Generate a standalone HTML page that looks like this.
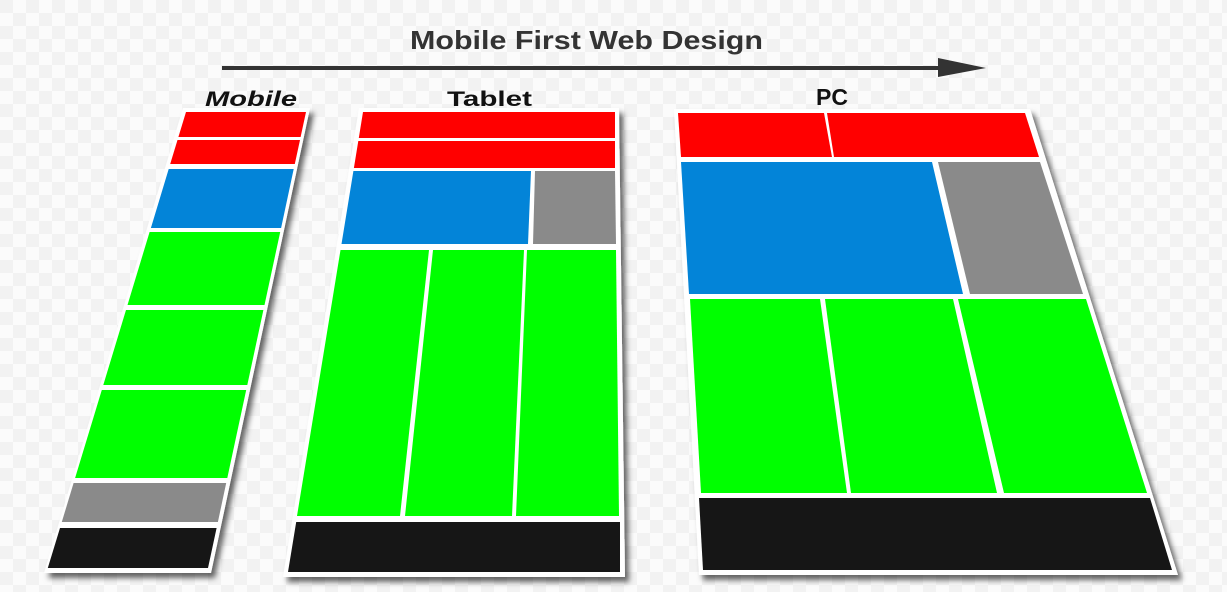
<!DOCTYPE html>
<html><head><meta charset="utf-8"><style>
html,body{margin:0;padding:0;background:#fff;}
svg{display:block}
</style></head><body>
<svg width="1227" height="592" viewBox="0 0 1227 592" xmlns="http://www.w3.org/2000/svg">
<defs>
<pattern id="chk" width="26" height="26" patternUnits="userSpaceOnUse">
<rect width="26" height="26" fill="#fbfbfb"/>
<rect width="13" height="13" fill="#f2f2f2"/>
<rect x="13" y="13" width="13" height="13" fill="#f2f2f2"/>
</pattern>
<filter id="sh" x="-10%" y="-10%" width="130%" height="130%">
<feDropShadow dx="4" dy="5" stdDeviation="3" flood-color="#000" flood-opacity="0.6"/>
</filter>
</defs>
<rect width="1227" height="592" fill="url(#chk)"/>

<!-- title -->
<text x="410" y="49" font-family="Liberation Sans, sans-serif" font-weight="bold" font-size="26" fill="#333" textLength="353" lengthAdjust="spacingAndGlyphs">Mobile First Web Design</text>
<rect x="222" y="66" width="722" height="4" fill="#333"/>
<polygon points="938,58 986,68 938,77" fill="#333"/>

<text x="205" y="106" font-family="Liberation Sans, sans-serif" font-weight="bold" font-style="italic" font-size="21" fill="#111" textLength="92" lengthAdjust="spacingAndGlyphs">Mobile</text>
<text x="447" y="106" font-family="Liberation Sans, sans-serif" font-weight="bold" font-size="21" fill="#111" textLength="85" lengthAdjust="spacingAndGlyphs">Tablet</text>
<text x="816" y="105" font-family="Liberation Sans, sans-serif" font-weight="bold" font-size="23" fill="#111" textLength="32" lengthAdjust="spacingAndGlyphs">PC</text>

<!-- Mobile -->
<polygon points="183,108 310,108 211,573 44,573" fill="#fff" filter="url(#sh)"/>
<polygon points="186,112 306,112 300.6,137 178.4,137" fill="#f00"/>
<polygon points="177.5,140 300,140 294.8,164 170.2,164" fill="#f00"/>
<polygon points="168.7,169 293.7,169 281.1,228 150.9,228" fill="#0384d8"/>
<polygon points="149.6,232 280.2,232 264.5,305 127.5,305" fill="#0f0"/>
<polygon points="126,310 263.4,310 247.3,385 103.3,385" fill="#0f0"/>
<polygon points="101.8,390 246.2,390 227.3,478 75.1,478" fill="#0f0"/>
<polygon points="73.6,483 226.2,483 217.9,522 61.8,522" fill="#8a8a8a"/>
<polygon points="60,528 216.6,528 208,568 47.8,568" fill="#161616"/>

<!-- Tablet -->
<polygon points="359,108 619,108 625,577 283,577" fill="#fff" filter="url(#sh)"/>
<polygon points="363,112 615,112 615,138 358.8,138" fill="#f00"/>
<polygon points="358.3,141 615,141 615,168 353.9,168" fill="#f00"/>
<polygon points="353.4,171 531,171 528,244 341.5,244" fill="#0384d8"/>
<polygon points="535,171 615,171 616,244 533,244" fill="#8a8a8a"/>
<polygon points="340.5,250 429,250 400,516 297,516" fill="#0f0"/>
<polygon points="433,250 524,250 512,516 405,516" fill="#0f0"/>
<polygon points="527,250 616,250 619,516 516,516" fill="#0f0"/>
<polygon points="296.2,522 620,522 620,572 288,572" fill="#161616"/>

<!-- PC -->
<polygon points="674,109 1030,109 1178,575 699,575" fill="#fff" filter="url(#sh)"/>
<polygon points="678,113 824,113 832,157 681,157" fill="#f00"/>
<polygon points="827,113 1025,113 1039,157 834,157" fill="#f00"/>
<polygon points="681,162 932,162 963,294 689,294" fill="#0384d8"/>
<polygon points="938,162 1040,162 1083,294 970,294" fill="#8a8a8a"/>
<polygon points="690,299 820,299 847,493 701,493" fill="#0f0"/>
<polygon points="825,299 953,299 997,493 851,493" fill="#0f0"/>
<polygon points="958,299 1086,299 1147,493 1004,493" fill="#0f0"/>
<polygon points="699,498 1150,498 1172,570 703,570" fill="#161616"/>
</svg>
</body></html>
